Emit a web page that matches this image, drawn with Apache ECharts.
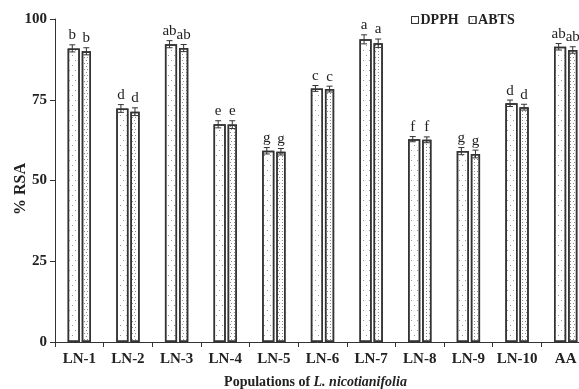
<!DOCTYPE html>
<html><head><meta charset="utf-8">
<script src="https://cdn.jsdelivr.net/npm/echarts@6/dist/echarts.min.js"></script>
<style>html,body{margin:0;padding:0;background:#fff}#c{width:579px;height:389px}</style>
</head><body><div id="c"></div>
<script>
const categories = ['LN-1','LN-2','LN-3','LN-4','LN-5','LN-6','LN-7','LN-8','LN-9','LN-10','AA'];
const dpph = [90.9, 72.3, 92.2, 67.4, 59.2, 78.5, 93.7, 62.8, 59.1, 73.9, 91.4];
const abts = [90.0, 71.3, 91.0, 67.3, 58.9, 78.3, 92.5, 62.6, 58.2, 72.7, 90.4];
const dpphErr = [1.1, 1.2, 1.1, 1.1, 1.0, 0.9, 1.4, 0.8, 1.1, 1.0, 1.0];
const abtsErr = [1.1, 1.2, 1.1, 1.2, 1.0, 0.9, 1.3, 0.9, 1.2, 0.9, 1.0];
const dpphLetters = ['b','d','ab','e','g','c','a','f','g','d','ab'];
const abtsLetters = ['b','d','ab','e','g','c','a','f','g','d','ab'];
const yTicks = [0, 25, 50, 75, 100];
const yTitle = '% RSA';

const SERIF = '"Liberation Serif","DejaVu Serif",serif';
const BAR_W = 0.25, GAP = 0.16;

function errSeries(vals, errs, letters, side) {
  return {
    type: 'custom',
    silent: true,
    z: 5,
    data: vals.map((v, i) => [i, v, errs[i]]),
    renderItem: function (params, api) {
      const i = api.value(0), v = api.value(1), e = api.value(2);
      const cw = api.size([1, 0])[0];
      const bw = cw * BAR_W;
      const off = (bw + bw * GAP) / 2 * side;
      const top = api.coord([i, v + e]);
      const bot = api.coord([i, v - e]);
      const x = top[0] + off;
      const cap = 3;
      const st = { stroke: '#333', lineWidth: 1 };
      return {
        type: 'group',
        children: [
          { type: 'line', shape: { x1: x, y1: top[1], x2: x, y2: bot[1] }, style: st },
          { type: 'line', shape: { x1: x - cap, y1: top[1], x2: x + cap, y2: top[1] }, style: st },
          { type: 'line', shape: { x1: x - cap, y1: bot[1], x2: x + cap, y2: bot[1] }, style: st },
          { type: 'text', style: { text: letters[i], x: x, y: top[1] - 2, align: 'center', verticalAlign: 'bottom',
              font: '15px ' + SERIF, fill: '#222' } }
        ]
      };
    }
  };
}

const chart = echarts.init(document.getElementById('c'));
chart.setOption({
  animation: false,
  backgroundColor: '#fff',
  grid: { left: 55, right: -11, top: 19, bottom: 47, containLabel: false, outerBoundsMode: 'none' },
  graphic: [{
    type: 'text', left: 13, top: 163,
    rotation: Math.PI / 2,
    style: { text: yTitle, font: 'bold 16px ' + SERIF, fill: '#222' }
  }],
  legend: {
    top: 8, left: 406,
    icon: 'rect',
    itemWidth: 7, itemHeight: 7, itemGap: 10,
    itemStyle: { borderColor: '#333', borderWidth: 1 },
    textStyle: { fontFamily: SERIF, fontWeight: 'bold', fontSize: 14, color: '#222', padding: [0,0,0,-3] },
    data: ['DPPH', 'ABTS']
  },
  xAxis: {
    type: 'category',
    data: categories,
    axisLine: { lineStyle: { color: '#333', width: 1 } },
    axisTick: { show: true, length: 5, lineStyle: { color: '#333' } },
    axisLabel: { interval: 0, fontFamily: SERIF, fontWeight: 'bold', fontSize: 15, color: '#222', margin: 10 },
    name: '{a|Populations of }{b|L. nicotianifolia}',
    nameLocation: 'middle',
    nameGap: 33,
    nameTextStyle: {
      padding: [0, 14, 0, 0],
      rich: {
        a: { fontFamily: SERIF, fontWeight: 'bold', fontSize: 14, color: '#222' },
        b: { fontFamily: SERIF, fontWeight: 'bold', fontStyle: 'italic', fontSize: 14, color: '#222' }
      }
    }
  },
  yAxis: {
    type: 'value',
    min: yTicks[0], max: yTicks[yTicks.length - 1], interval: 25,
    axisLine: { show: true, lineStyle: { color: '#333' } },
    axisTick: { show: true, length: 5, lineStyle: { color: '#333' } },
    splitLine: { show: false },
    axisLabel: { fontFamily: SERIF, fontWeight: 'bold', fontSize: 15, color: '#222', margin: 8 }
  },
  series: [
    {
      name: 'DPPH', type: 'bar', data: dpph,
      barWidth: (BAR_W * 100) + '%', barGap: (GAP * 100) + '%',
      itemStyle: {
        color: '#fff', borderColor: '#333', borderWidth: 1.5,
        decal: { symbol: 'circle', symbolSize: 1, dashArrayX: [[1, 5], [0, 3, 1, 2]], dashArrayY: [1, 4], color: '#777', rotation: 0 }
      }
    },
    {
      name: 'ABTS', type: 'bar', data: abts,
      itemStyle: {
        color: '#fff', borderColor: '#333', borderWidth: 1.5,
        decal: { symbol: 'circle', symbolSize: 1, dashArrayX: [[1, 2], [0, 1.5, 1, 0.5]], dashArrayY: [1, 2], color: '#666', rotation: 0 }
      }
    },
    errSeries(dpph, dpphErr, dpphLetters, -1),
    errSeries(abts, abtsErr, abtsLetters, 1)
  ]
});
</script>
</body></html>
